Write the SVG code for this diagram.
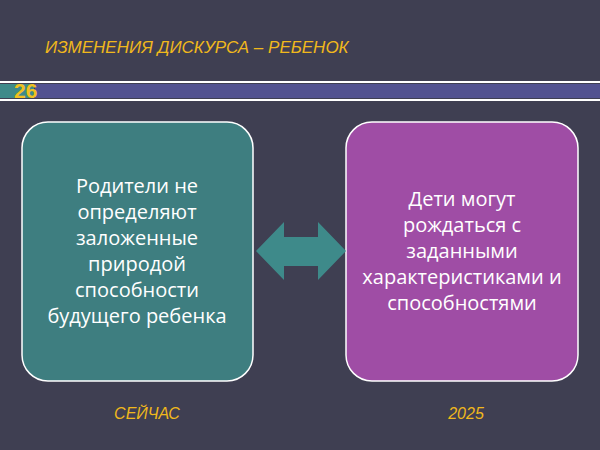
<svg xmlns="http://www.w3.org/2000/svg" width="600" height="450" viewBox="0 0 600 450">
<style>
.t{font-family:"Open Sans","Liberation Sans",sans-serif;font-size:20px;fill:#fff;text-anchor:middle}
.y{font-family:"Liberation Sans",sans-serif;font-style:italic;fill:#f0b81c}
</style>
<rect width="600" height="450" fill="#3f3f52"/>
<text class="y" x="45" y="53" font-size="17">ИЗМЕНЕНИЯ ДИСКУРСА – РЕБЕНОК</text>
<rect x="0" y="81" width="600" height="2" fill="#fff"/>
<rect x="0" y="84" width="34" height="14" fill="#3e8a8a"/>
<rect x="35" y="84" width="565" height="14" fill="#525290"/>
<rect x="0" y="99" width="600" height="2" fill="#fff"/>
<text x="14" y="98" font-family="Liberation Sans,sans-serif" font-weight="bold" font-size="21" fill="#f0c020">26</text>
<g id="left"><rect x="22" y="122" width="231" height="259" rx="26" fill="#3e7e80" stroke="#fff" stroke-width="1.5"/>
<text class="t"><tspan x="137" y="193">Родители не</tspan><tspan x="137" y="219">определяют</tspan><tspan x="137" y="245">заложенные</tspan><tspan x="137" y="271">природой</tspan><tspan x="137" y="297">способности</tspan><tspan x="137" y="323">будущего ребенка</tspan></text></g>
<g id="right"><rect x="346" y="122" width="232" height="259" rx="26" fill="#9f4da5" stroke="#fff" stroke-width="1.5"/>
<text class="t"><tspan x="462" y="206">Дети могут</tspan><tspan x="462" y="232">рождаться с</tspan><tspan x="462" y="258">заданными</tspan><tspan x="462" y="284">характеристиками и</tspan><tspan x="462" y="310">способностями</tspan></text></g>
<g id="connectors"><polygon points="256,251 284,222 284,237 318,237 318,222 346,251 318,280 318,266 284,266 284,280" fill="#3e8a8a"/></g>
<text class="y" x="147" y="419" font-size="16" text-anchor="middle">СЕЙЧАС</text>
<text class="y" x="466" y="419" font-size="16" text-anchor="middle">2025</text>
</svg>
